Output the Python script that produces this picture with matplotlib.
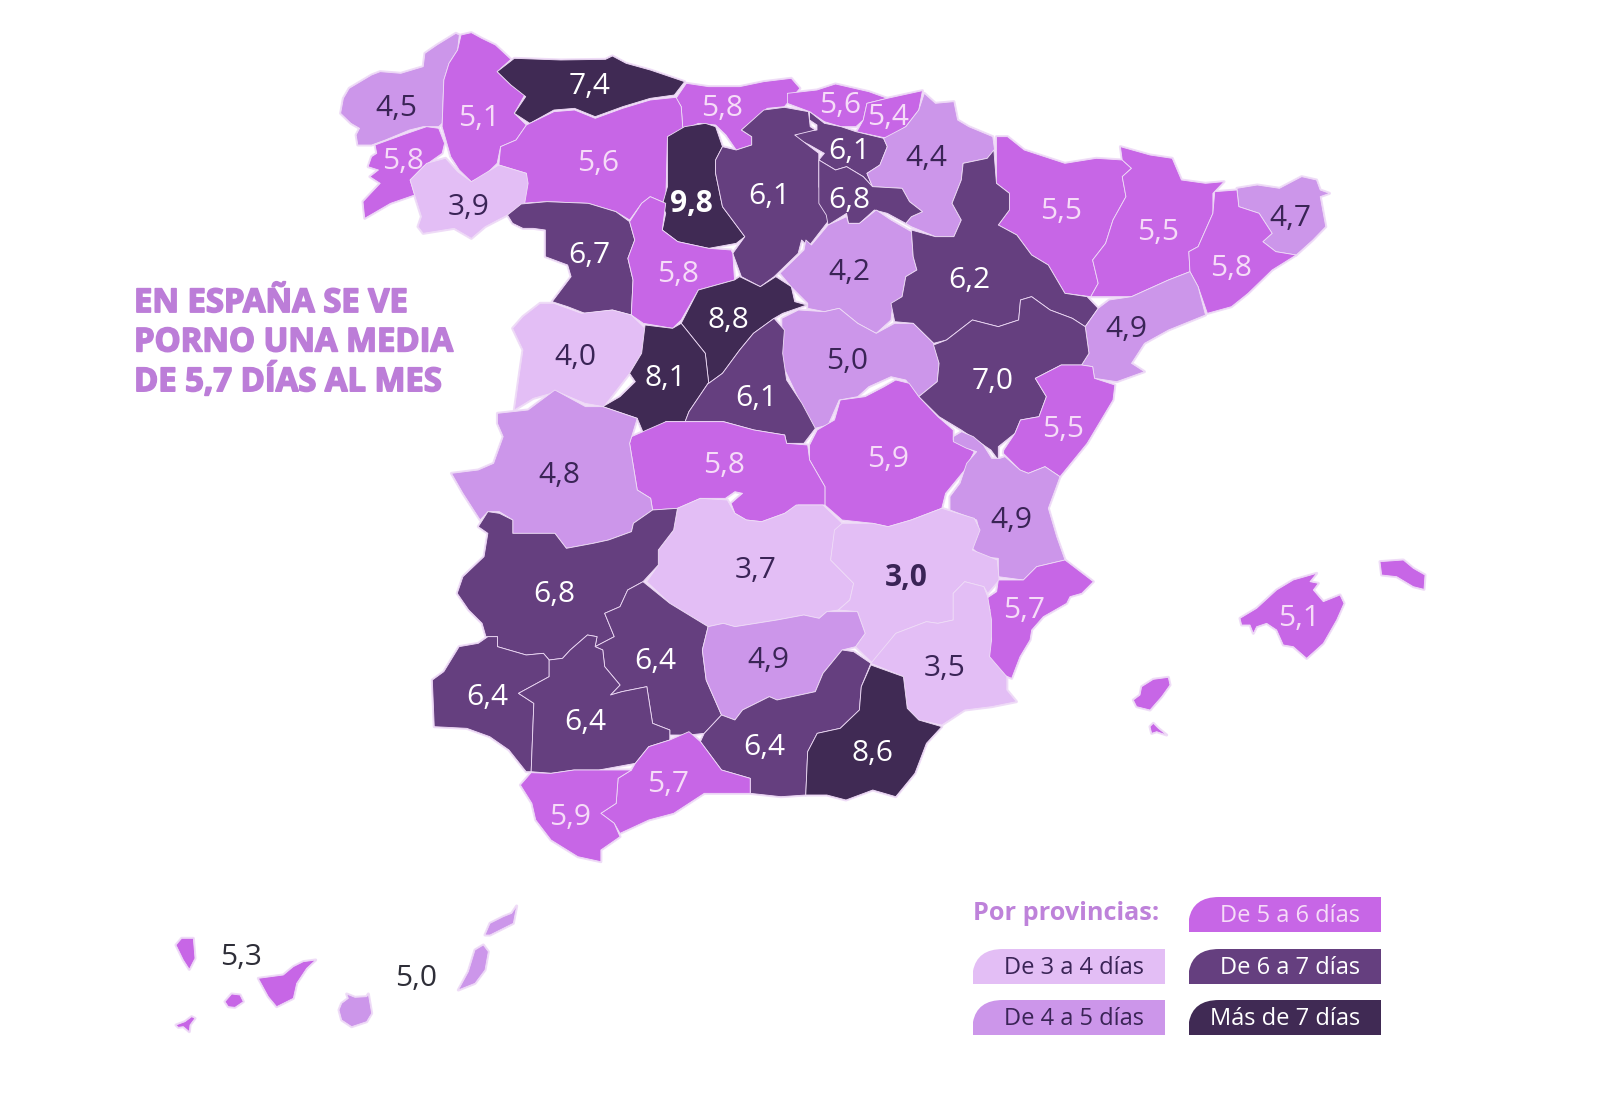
"""
Dias al mes por provincia - mapa de coropletas
"""
import numpy as np
import matplotlib
matplotlib.use("Agg")
import matplotlib.pyplot as plt
import matplotlib.patheffects as pe
from matplotlib.patches import Polygon, PathPatch
from matplotlib.path import Path

plt.rcParams["font.family"] = ["Open Sans", "DejaVu Sans"]


def z1(pts):
    return [(320 + 0.344 * x, 20 + y / 3) for x, y in pts]


def z2(pts):
    return [(780 + 0.37 * x, 70 + y / 3) for x, y in pts]


def z3(pts):
    return [(440 + 0.383 * x, 380 + y / 3) for x, y in pts]


def z7(pts):
    return [(950 + x / 3, 420 + y / 3) for x, y in pts]


def bal(pts):
    return [(1120 + x / 3, 540 + y / 3) for x, y in pts]


def can(pts):
    return [(150 + x / 3, 890 + y / 3) for x, y in pts]


# Values
provinces = ["A Coruna", "Lugo", "Asturias", "Cantabria", "Vizcaya", "Guipuzcoa", "Pontevedra", "Leon",
             "Alava", "Navarra", "Ourense", "Palencia", "Burgos", "La Rioja", "Huesca", "Lleida", "Girona",
             "Barcelona", "Zamora", "Valladolid", "Soria", "Zaragoza", "Segovia", "Tarragona", "Salamanca",
             "Guadalajara", "Avila", "Teruel", "Madrid", "Castellon", "Cuenca", "Toledo", "Caceres",
             "Valencia", "Ciudad Real", "Albacete", "Badajoz", "Alicante", "Baleares", "Cordoba", "Jaen",
             "Murcia", "Huelva", "Sevilla", "Granada", "Almeria", "Malaga", "Cadiz", "Tenerife", "Las Palmas"]
values = [4.5, 5.1, 7.4, 5.8, 5.6, 5.4, 5.8, 5.6,
          6.1, 4.4, 3.9, 9.8, 6.1, 6.8, 5.5, 5.5, 4.7,
          5.8, 6.7, 5.8, 4.2, 6.2, 8.8, 4.9, 4.0,
          5.0, 8.1, 7.0, 6.1, 5.5, 5.9, 5.8, 4.8,
          4.9, 3.7, 3.0, 6.8, 5.7, 5.1, 6.4, 4.9,
          3.5, 6.4, 6.4, 6.4, 8.6, 5.7, 5.9, 5.3, 5.0]
label_x = [388, 469, 578, 708, 823, 870, 395, 586,
           832, 908, 459, 678, 754, 832, 1040, 1135, 1265,
           1206, 578, 664, 832, 950, 714, 1104, 564,
           830, 652, 973, 741, 1042, 870, 710, 548,
           991, 741, 888, 543, 1004, 1273, 642, 753,
           926, 478, 574, 749, 855, 655, 559, 236, 408]
label_y = [103, 113, 82, 103, 100, 112, 155, 157,
           145, 152, 200, 197, 190, 193, 204, 225, 211,
           260, 247, 266, 264, 272, 311, 320, 347,
           351, 368, 371, 388, 418, 447, 453, 463,
           507, 556, 563, 580, 595, 603, 645, 644,
           652, 681, 705, 730, 735, 766, 798, 935, 956]

bin_edges = [4, 5, 6, 7]
bin_colors = ["#E3BEF5", "#CC96EA", "#C766E6", "#653F7F", "#402A54"]
bin_text = ["#3A2456", "#3A2456", "#F6DCF8", "#FFFFFF", "#FFFFFF"]
legend_labels = ["De 3 a 4 días", "De 4 a 5 días", "De 5 a 6 días", "De 6 a 7 días", "Más de 7 días"]
legend_title = "Por provincias:"
title_lines = ["EN ESPAÑA SE VE", "PORNO UNA MEDIA", "DE 5,7 DÍAS AL MES"]

# Province outlines
outlines = {
    "A Coruna": [z1([(68, 235), (85, 205), (150, 165), (175, 155), (235, 160), (300, 140), (305, 100), (340, 75), (395, 40), (405, 45), (400, 90), (375, 130), (360, 180), (355, 310), (345, 320), (300, 320), (260, 330), (190, 360), (150, 375), (110, 375), (105, 345), (115, 325), (90, 310), (60, 280)])],
    "Lugo": [z1([(410, 45), (440, 38), (470, 55), (510, 75), (555, 118), (515, 155), (555, 195), (595, 225), (565, 280), (600, 315), (570, 360), (525, 380), (515, 430), (480, 465), (440, 485), (405, 450), (380, 410), (355, 320), (360, 180), (375, 130), (400, 90)])],
    "Asturias": [z1([(565, 115), (700, 120), (830, 118), (850, 108), (890, 130), (960, 150), (1060, 185), (1030, 225), (960, 235), (880, 260), (800, 290), (740, 265), (680, 270), (610, 310), (565, 280), (598, 230), (555, 195), (515, 155)])],
    "Cantabria": [z1([(1065, 190), (1130, 200), (1220, 200), (1290, 185), (1370, 175), (1395, 205), (1350, 260), (1300, 265), (1225, 330), (1255, 350), (1255, 375), (1210, 390), (1180, 345), (1150, 315), (1100, 310), (1055, 330), (1050, 260), (1035, 235)])],
    "Leon": [z1([(600, 315), (680, 275), (740, 270), (800, 295), (880, 265), (960, 240), (1035, 232), (1050, 260), (1055, 330), (1010, 350), (1005, 550), (960, 530), (935, 550), (900, 600), (860, 575), (780, 550), (660, 545), (585, 550), (600, 490), (600, 460), (520, 435), (525, 380), (570, 360)])],
    "Pontevedra": [z1([(160, 375), (240, 345), (310, 320), (345, 325), (362, 370), (355, 400), (300, 440), (262, 480), (275, 525), (205, 550), (130, 595), (125, 545), (175, 490), (145, 470), (170, 450), (140, 440), (150, 410), (165, 400)])],
    "Ourense": [z1([(262, 480), (310, 430), (365, 415), (400, 455), (440, 485), (520, 435), (600, 460), (605, 490), (595, 550), (545, 585), (480, 620), (440, 655), (390, 625), (300, 640), (285, 620), (295, 590), (275, 525)])],
    "Zamora": [z1([(545, 585), (585, 552), (660, 545), (780, 550), (860, 575), (900, 605), (915, 660), (895, 715), (910, 780), (905, 885), (850, 870), (770, 880), (720, 860), (675, 845), (730, 770), (720, 735), (655, 710), (655, 630), (620, 625), (590, 625), (560, 610)])],
    "Palencia": [z1([(1010, 350), (1060, 320), (1120, 310), (1150, 320), (1170, 380), (1150, 420), (1150, 460), (1170, 560), (1235, 650), (1210, 670), (1130, 685), (1040, 665), (995, 630), (1005, 580), (995, 555), (1010, 500)])],
    "Burgos": [z1([(1225, 330), (1290, 270), (1350, 262), (1420, 275), (1425, 320), (1440, 330), (1380, 345), (1450, 400), (1450, 500), (1480, 600), (1420, 680), (1400, 660), (1390, 700), (1320, 770), (1280, 800), (1225, 770), (1200, 700), (1235, 650), (1170, 560), (1150, 460), (1150, 420), (1170, 380), (1210, 390), (1255, 375), (1255, 350)])],
    "Valladolid": [z1([(900, 605), (935, 550), (960, 530), (1005, 550), (995, 630), (1040, 665), (1130, 685), (1195, 690), (1200, 700), (1205, 780), (1100, 810), (1050, 900), (1025, 925), (940, 910), (905, 885), (910, 780), (895, 715), (915, 660)])],
    "Segovia": [z1([(1100, 810), (1205, 780), (1220, 770), (1280, 800), (1325, 770), (1370, 800), (1380, 845), (1415, 855), (1345, 880), (1320, 895), (1260, 940), (1220, 990), (1170, 1060), (1130, 1090), (1120, 1000), (1050, 910)])],
    "Salamanca": [z1([(560, 925), (590, 890), (640, 850), (680, 850), (760, 880), (850, 870), (905, 885), (945, 925), (935, 1000), (900, 1060), (825, 1160), (770, 1150), (690, 1115), (620, 1135), (565, 1170), (580, 1060), (590, 990)])],
    "Avila": [z1([(945, 915), (1025, 925), (1050, 910), (1120, 1000), (1130, 1090), (1110, 1130)]) + z3([(700, 10), (650, 95), (640, 125), (590, 125), (535, 170), (515, 115), (425, 80), (470, 50), (510, 5)]) + z1([(900, 1060), (935, 1000)])],
    "Madrid": [z1([(1320, 895), (1350, 930), (1345, 1000)]) + z3([(905, 0), (945, 70), (980, 145), (950, 190), (905, 190), (900, 165), (820, 150), (740, 125), (640, 125), (650, 95), (700, 10)]) + z1([(1130, 1090), (1170, 1060), (1220, 990), (1260, 940)])],
    "Caceres": [z3([(150, 100), (230, 90), (300, 30), (380, 80), (425, 80), (515, 115), (495, 190), (515, 330), (550, 355), (555, 390), (505, 430), (500, 455), (440, 480), (400, 490), (330, 505), (300, 460), (190, 460), (190, 420), (155, 395), (125, 395), (105, 420), (60, 340), (30, 280), (100, 270), (140, 250), (165, 170), (150, 130)])],
    "Badajoz": [z3([(100, 440), (125, 395), (155, 400), (190, 420), (190, 460), (300, 460), (330, 505), (400, 490), (440, 480), (500, 455), (505, 430), (555, 390), (620, 385), (610, 450), (570, 510), (570, 555), (530, 605), (490, 630), (470, 680), (430, 700), (455, 770), (405, 800), (410, 770), (385, 765), (340, 810), (320, 835), (285, 840), (270, 820), (225, 825), (150, 800), (150, 770), (120, 770), (110, 730), (75, 690), (45, 640), (60, 590), (115, 530), (125, 460)])],
    "Huelva": [z3([(50, 800), (100, 790), (125, 770), (150, 770), (150, 800), (225, 825), (270, 820), (285, 840), (285, 890), (205, 940), (245, 970), (238, 1175), (225, 1175), (180, 1110), (130, 1070), (70, 1045), (-15, 1040), (-20, 900), (10, 875)])],
    "Sevilla": [z3([(285, 840), (320, 835), (340, 810), (385, 765), (410, 770), (405, 800), (425, 810), (430, 860), (470, 915), (445, 945), (475, 935), (540, 920), (555, 1030), (600, 1050), (600, 1080), (545, 1100), (510, 1150), (415, 1170), (350, 1170), (290, 1180), (238, 1175), (245, 970), (205, 940), (285, 890)])],
    "Cordoba": [z3([(530, 605), (600, 670), (700, 740), (685, 810), (695, 900), (735, 1005), (690, 1060), (650, 1065), (600, 1065), (600, 1050), (555, 1030), (540, 920), (475, 935), (445, 945), (470, 915), (430, 860), (425, 810), (405, 800), (455, 770), (430, 700), (470, 680), (490, 630)])],
    "Cadiz": [z3([(238, 1178), (290, 1180), (350, 1170), (415, 1170), (500, 1170), (465, 1195), (460, 1270), (420, 1300), (455, 1330), (470, 1370), (420, 1410), (420, 1445), (360, 1430), (290, 1380), (250, 1320), (240, 1270), (210, 1215)])],
    "Malaga": [z3([(500, 1170), (510, 1150), (545, 1100), (600, 1080), (650, 1055), (680, 1085), (735, 1170), (810, 1195), (810, 1240), (690, 1240), (610, 1300), (545, 1320), (470, 1360), (455, 1330), (420, 1300), (460, 1270), (465, 1195)])],
    "Granada": [z3([(680, 1085), (690, 1060), (735, 1005), (770, 1020), (790, 990), (860, 950), (880, 960), (980, 935), (1000, 880), (1050, 810), (1080, 815), (1125, 850), (1100, 920), (1095, 990), (1045, 1045), (985, 1060), (960, 1115), (955, 1245), (890, 1250), (810, 1240), (810, 1195), (735, 1170)])],
    "Almeria": [z3([(1125, 855), (1210, 890), (1220, 985), (1250, 1020), (1310, 1040), (1270, 1090), (1240, 1180), (1190, 1250), (1130, 1230), (1060, 1260), (1010, 1245), (955, 1245), (960, 1115), (985, 1060), (1045, 1045), (1095, 990), (1100, 920)])],
    "Jaen": [z3([(700, 740), (740, 730), (770, 740), (880, 720), (950, 705), (990, 715), (1010, 695), (1090, 695), (1110, 760), (1085, 800), (1050, 810), (1000, 880), (980, 935), (880, 960), (860, 950), (790, 990), (770, 1020), (735, 1005), (695, 900), (685, 810)])],
    "Ciudad Real": [z3([(540, 605), (570, 555), (570, 510), (610, 450), (620, 385), (680, 355), (750, 360), (770, 400), (800, 420), (840, 425), (900, 400), (930, 375), (1000, 375), (1050, 430), (1030, 460), (1020, 540), (1080, 610), (1070, 660), (1040, 690), (1010, 695), (990, 715), (950, 705), (880, 720), (770, 740), (740, 730), (700, 740), (600, 670)])],
    "Toledo": [z3([(500, 170), (560, 140), (590, 125), (640, 125), (740, 125), (820, 150), (900, 165), (905, 190), (960, 195), (965, 240), (1005, 320), (1005, 375), (935, 375), (900, 400), (840, 425), (800, 420), (770, 400), (760, 370), (790, 340), (770, 335), (745, 355), (680, 355), (620, 385), (555, 390), (550, 355), (515, 330), (495, 190)])],
    "Cuenca": [z3([(1190, 0), (1225, 10), (1250, 50), (1300, 110), (1340, 150), (1340, 180), (1395, 215), (1370, 270), (1320, 340), (1310, 385), (1230, 420), (1170, 440), (1130, 430), (1050, 420), (1005, 375), (1005, 320), (965, 240), (965, 195), (985, 150), (1030, 120), (1045, 60), (1110, 50), (1160, 20)])],
    "Guadalajara": [z2([(5, 745), (50, 720), (120, 725), (160, 715), (210, 760), (260, 790), (310, 760), (360, 760), (415, 820), (430, 880), (425, 935), (375, 980), (340, 930), (300, 920), (240, 950), (210, 980), (160, 990), (130, 1065), (95, 1075), (60, 1010), (5, 880), (5, 800)])],
    "Soria": [z2([(0, 610), (65, 540), (70, 510), (85, 525), (130, 465), (180, 440), (185, 460), (215, 460), (260, 420), (300, 450), (355, 485), (360, 560), (370, 600), (340, 620), (330, 680), (305, 700), (300, 750), (260, 790), (210, 760), (160, 715), (120, 725), (75, 715), (75, 700), (30, 650)])],
    "La Rioja": [z2([(105, 270), (150, 300), (180, 290), (225, 320), (250, 350), (330, 355), (350, 395), (385, 425), (355, 440), (340, 460), (290, 430), (255, 420), (215, 460), (185, 460), (180, 430), (130, 465), (125, 435), (105, 400)])],
    "Alava": [z2([(80, 125), (120, 160), (165, 170), (205, 185), (280, 205), (290, 230), (270, 285), (235, 310), (250, 350), (225, 320), (180, 290), (150, 300), (105, 270), (120, 250), (80, 225), (35, 200), (60, 185), (100, 180), (100, 165), (80, 150)])],
    "Guipuzcoa": [z2([(210, 180), (225, 150), (235, 100), (290, 85), (385, 62), (375, 120), (340, 170), (290, 205), (205, 185)])],
    "Vizcaya": [z2([(20, 70), (100, 60), (150, 42), (240, 65), (290, 85), (235, 100), (225, 150), (205, 170), (165, 170), (120, 155), (80, 125), (20, 100)])],
    "Navarra": [z2([(390, 70), (420, 100), (470, 95), (480, 150), (510, 170), (575, 200), (580, 240), (560, 265), (495, 280), (490, 330), (465, 400), (490, 450), (470, 500), (420, 500), (355, 470), (340, 460), (355, 440), (385, 425), (350, 395), (330, 355), (250, 350), (235, 310), (270, 285), (290, 230), (280, 205), (340, 170), (375, 120)])],
    "Zaragoza": [z2([(355, 480), (420, 500), (470, 500), (490, 450), (465, 400), (490, 330), (495, 280), (560, 265), (578, 240), (585, 340), (620, 370), (620, 420), (590, 465), (640, 495), (680, 555), (725, 585), (770, 670), (830, 680), (860, 715), (825, 770), (790, 745), (730, 720), (680, 680), (650, 690), (645, 750), (590, 770), (520, 750), (450, 810), (415, 820), (360, 760), (310, 755), (300, 700), (330, 680), (340, 620), (370, 600), (360, 560)])],
    "Teruel": [z2([(415, 825), (450, 810), (520, 750), (590, 770), (645, 750), (650, 690), (680, 680), (730, 720), (790, 745), (825, 770), (835, 850), (815, 885), (760, 885), (690, 925), (720, 980), (700, 1040), (650, 1050), (635, 1090), (590, 1130), (590, 1170), (570, 1140), (490, 1080), (430, 1040), (375, 980), (425, 935), (430, 880)])],
    "Huesca": [z2([(585, 200), (615, 200), (660, 240), (770, 280), (855, 265), (925, 270), (950, 295), (925, 320), (935, 380), (900, 450), (880, 520), (845, 570), (860, 640), (840, 680), (770, 670), (725, 585), (680, 555), (640, 495), (590, 465), (620, 420), (620, 370), (585, 340)])],
    "Lleida": [z2([(920, 230), (1000, 255), (1060, 265), (1085, 330), (1150, 340), (1200, 335), (1170, 370), (1170, 430), (1130, 530), (1105, 545), (1108, 605), (1050, 630), (950, 680), (840, 680), (860, 640), (845, 570), (880, 520), (900, 450), (935, 380), (925, 320), (950, 295), (925, 270)])],
    "Girona": [z2([(1235, 355), (1290, 345), (1350, 355), (1410, 320), (1450, 330), (1460, 360), (1485, 370), (1460, 380), (1475, 470), (1440, 510), (1395, 555), (1340, 545), (1305, 515), (1330, 490), (1295, 430), (1240, 410)])],
    "Barcelona": [z2([(1175, 365), (1235, 360), (1240, 410), (1295, 430), (1330, 490), (1305, 515), (1340, 545), (1395, 555), (1330, 600), (1265, 670), (1220, 710), (1155, 730), (1130, 650), (1108, 605), (1105, 545), (1130, 530), (1170, 430)])],
    "Tarragona": [z2([(890, 690), (950, 680), (1050, 630), (1108, 605), (1130, 650), (1150, 735), (1050, 780), (985, 820), (950, 880), (985, 905), (910, 935), (850, 925), (845, 890), (815, 885), (835, 850), (825, 770), (860, 715)])],
    "Castellon": [z2([(690, 925), (760, 885), (815, 885), (845, 890), (850, 925), (905, 945), (900, 990), (830, 1120)]) + z7([(330, 170), (285, 140), (235, 160), (210, 150), (160, 100)]) + z2([(605, 1140), (635, 1090), (650, 1050), (700, 1040), (720, 980)])],
    "Valencia": [z7([(10, 50), (35, 35), (70, 50), (100, 75), (125, 115), (150, 115), (165, 110), (210, 150), (235, 160), (285, 140), (330, 170), (295, 265), (320, 350), (345, 420), (260, 440), (220, 480), (145, 470), (145, 415), (95, 410), (62, 380), (85, 320), (80, 300), (0, 270), (0, 230), (30, 190), (50, 130), (80, 95), (50, 85), (10, 65)])],
    "Albacete": [z3([(1030, 450), (1050, 430), (1130, 430), (1170, 440), (1230, 420), (1310, 385), (1395, 415), (1410, 450), (1390, 510), (1455, 540), (1460, 600), (1430, 640), (1420, 620), (1370, 605), (1340, 640), (1340, 720), (1300, 730), (1270, 725), (1190, 760), (1130, 850), (1085, 800), (1110, 760), (1090, 695), (1040, 690), (1070, 660), (1080, 610), (1020, 540)])],
    "Murcia": [z3([(1340, 640), (1370, 605), (1420, 620), (1430, 650), (1440, 720), (1440, 780), (1435, 830), (1480, 890), (1480, 930), (1505, 965), (1440, 980), (1370, 990), (1310, 1035), (1250, 1020), (1220, 985), (1210, 890), (1125, 850), (1190, 760), (1270, 725), (1300, 730), (1340, 720)])],
    "Alicante": [z7([(145, 480), (220, 480), (260, 440), (345, 420), (430, 485), (395, 520), (360, 530), (350, 550), (280, 590), (245, 630), (240, 660), (210, 710), (185, 775), (150, 760), (120, 720), (115, 685), (125, 660), (110, 610), (120, 570), (110, 535), (140, 515)])],
    "Baleares": [bal([(360, 235), (410, 205), (470, 150), (520, 120), (590, 100), (570, 125), (595, 130), (580, 150), (610, 185), (660, 165), (672, 190), (650, 240), (610, 310), (560, 355), (520, 320), (490, 315), (470, 270), (440, 250), (410, 260), (400, 280), (390, 255), (365, 255)]),
                 bal([(780, 65), (850, 60), (880, 85), (915, 105), (912, 148), (880, 140), (830, 110), (785, 105)]),
                 bal([(65, 440), (100, 418), (145, 412), (150, 435), (125, 470), (90, 510), (50, 500), (40, 480), (60, 465)]),
                 bal([(90, 560), (100, 550), (115, 565), (140, 585), (110, 575), (95, 580)])],
    "Tenerife": [can([(78, 165), (95, 145), (130, 145), (135, 205), (118, 238), (100, 210)]),
                 can([(225, 335), (245, 312), (270, 315), (280, 335), (255, 352), (235, 350)]),
                 can([(78, 405), (105, 395), (125, 380), (135, 385), (120, 405), (118, 425), (100, 410), (85, 412)]),
                 can([(325, 265), (400, 255), (430, 230), (460, 215), (497, 210), (470, 235), (440, 280), (430, 325), (380, 350), (355, 320)])],
    "Las Palmas": [can([(575, 340), (595, 325), (590, 312), (615, 322), (650, 320), (655, 312), (665, 370), (650, 395), (605, 410), (575, 390), (567, 360)]),
                   can([(925, 300), (955, 245), (975, 180), (1000, 165), (1015, 185), (1005, 240), (975, 280)]),
                   can([(1005, 135), (1020, 100), (1060, 80), (1085, 70), (1100, 48), (1090, 100), (1050, 120), (1020, 135)])],
}

S = 1600 / 1568
BORDER = "#EFDCF7"
fig = plt.figure(figsize=(16, 11.09), dpi=100)
ax = fig.add_axes([0, 0, 1, 1])
ax.set_xlim(0, 1600)
ax.set_ylim(1109, 0)
ax.axis("off")

bins = np.digitize(values, bin_edges, right=True)

# pale underlay closes the slivers between traced neighbours and gives the soft coast line
for name in provinces:
    for pts in outlines[name]:
        ax.add_patch(Polygon(pts, closed=True, facecolor=BORDER, edgecolor=BORDER,
                             linewidth=2.2, joinstyle="round"))
for name, b in zip(provinces, bins):
    for pts in outlines[name]:
        ax.add_patch(Polygon(pts, closed=True, facecolor=bin_colors[b], edgecolor=BORDER,
                             linewidth=0.6, joinstyle="round"))

for name, v, b, x, y in zip(provinces, values, bins, label_x, label_y):
    color = bin_text[b]
    if name in ("Tenerife", "Las Palmas"):
        color = "#2E2E38"
    weight = "bold" if v in (9.8, 3.0) else "normal"
    ax.text(x * S, (y + 3) * S, f"{v:.1f}".replace(".", ","), color=color, fontsize=21.5,
            fontweight=weight, ha="center", va="center")

for i, line in enumerate(title_lines):
    ax.text(134, (297.5 + i * 38.5) * S, line, color="#BC7DD8", fontsize=23.6, fontweight="bold",
            ha="left", va="center",
            path_effects=[pe.withStroke(linewidth=1.2, foreground="#BC7DD8")])


# legend chips: rounded top left corner
def chip(x0, y0, x1, y1, color):
    r = 22
    verts = [(x0, y1), (x0, y0 + r), (x0 + 4, y0), (x0 + r + 8, y0), (x1, y0), (x1, y1), (x0, y1)]
    codes = [Path.MOVETO, Path.LINETO, Path.CURVE3, Path.CURVE3, Path.LINETO, Path.LINETO, Path.CLOSEPOLY]
    ax.add_patch(PathPatch(Path(verts, codes), facecolor=color, edgecolor="none"))


chip_x = [973, 973, 1189, 1189, 1189]
chip_y = [949, 1000, 897, 949, 1000]
ax.text(973, 914, legend_title, color="#BE82DA", fontsize=18.2, fontweight="bold", ha="left", va="center")
for i, lab in enumerate(legend_labels):
    chip(chip_x[i], chip_y[i], chip_x[i] + 192, chip_y[i] + 35, bin_colors[i])
    ax.text(chip_x[i] + 171, chip_y[i] + 19, lab, color=bin_text[i], fontsize=17, ha="right", va="center")

fig.savefig("out.png", dpi=100, facecolor="white")
